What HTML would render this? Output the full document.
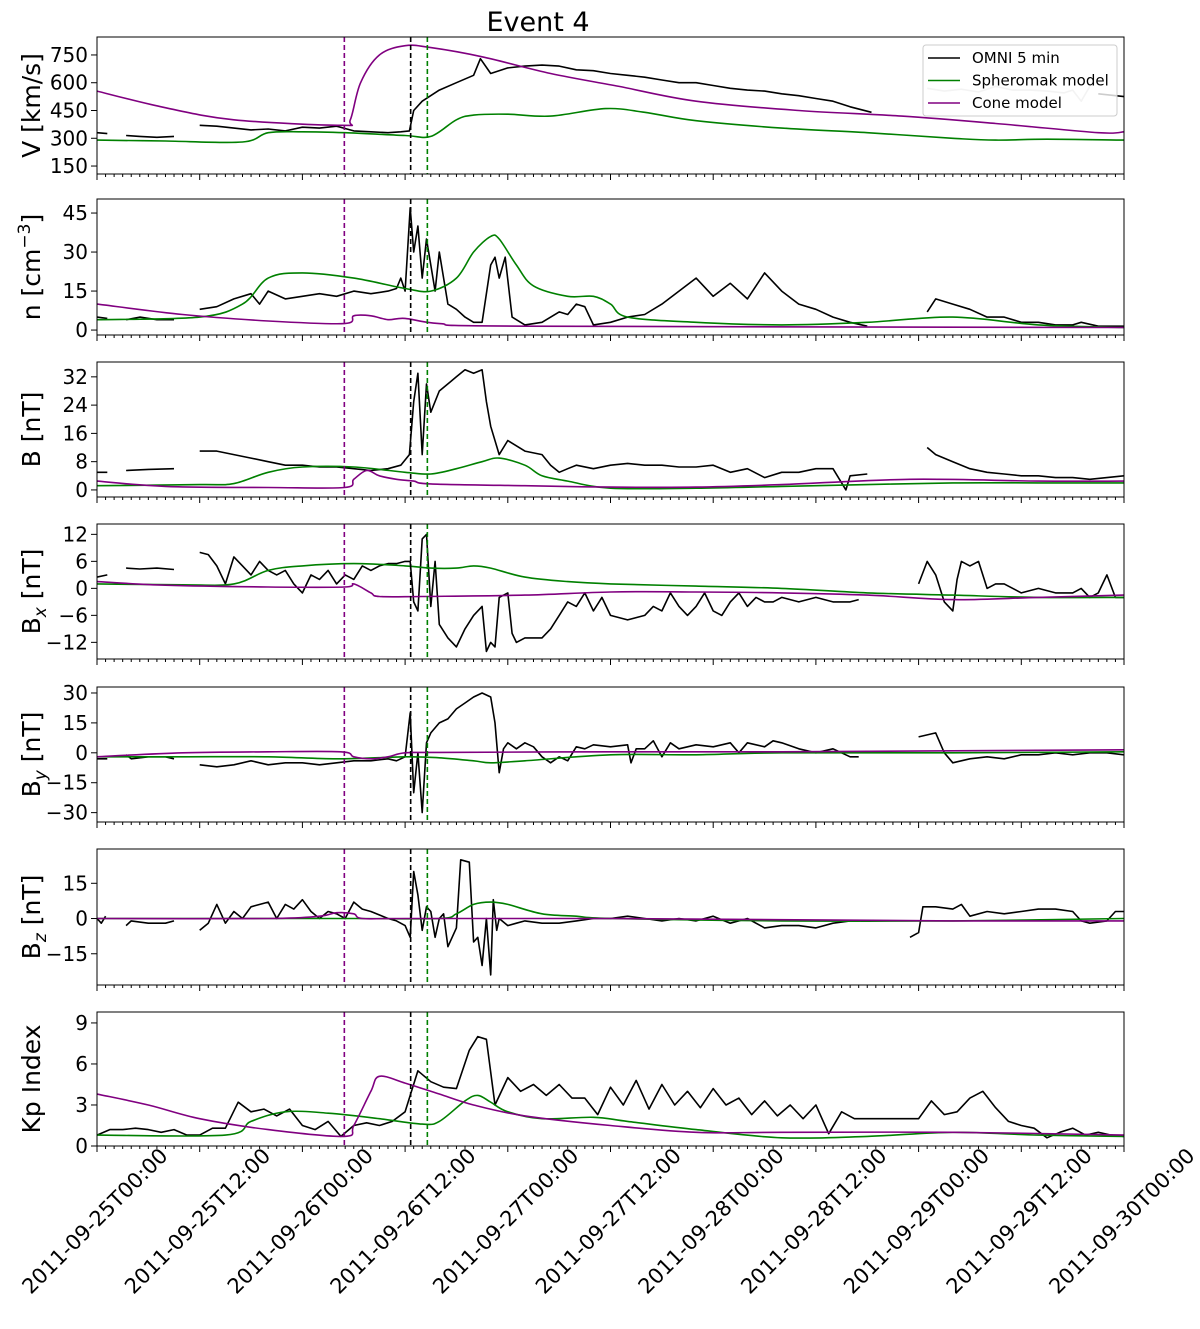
<!DOCTYPE html>
<html><head><meta charset="utf-8"><style>
html,body{margin:0;padding:0;background:#fff;}
svg{display:block;font-family:"DejaVu Sans","Liberation Sans",sans-serif;}
</style></head><body>
<svg id="chart" width="1200" height="1329" viewBox="0 0 1200 1329" xmlns="http://www.w3.org/2000/svg">
<text x="538" y="31" text-anchor="middle" font-size="27">Event 4</text>
</svg>
<script>
// ---------- data (time in hours since 2011-09-25T00:00) ----------
const xTickLabels = ["2011-09-25T00:00","2011-09-25T12:00","2011-09-26T00:00","2011-09-26T12:00","2011-09-27T00:00","2011-09-27T12:00","2011-09-28T00:00","2011-09-28T12:00","2011-09-29T00:00","2011-09-29T12:00","2011-09-30T00:00"];
const eventTimes = [28.9, 36.65, 38.6];

const vOmniT = [0,1.2,null,3.4,5,7,9,null,12,14,16,18,20,22,24,26,28,30,32,34,35.5,36.5,37,38,40,42,44,44.8,46,48,50,52,54,56,58,60,62,64,66,68,70,72,74,76,78,80,82,84,86,88,90.5,null,117,120];
const vOmni  = [330,325,null,315,310,305,310,null,370,365,355,345,350,340,360,355,365,340,335,330,335,340,450,500,560,600,640,730,650,680,690,695,690,670,665,650,640,630,615,600,600,585,570,560,555,540,530,515,500,470,440,null,540,525];
const vGrayT = [97,99,101,103,105,107,109,111,113,114,115,116];
const vGray  = [570,555,565,550,580,560,560,555,545,560,500,580];
const vSphT = [0,8,17,20,24,29,36,39,42,44,48,53,59.4,64,70,80,90,100,105,111,120];
const vSph  = [290,285,280,330,335,330,315,310,400,425,430,420,460,440,395,355,330,300,290,295,290];
const vConeT = [0,7.5,16,28.6,29.6,30.8,33,36,39,45,53,61,70,82,94,105,117,120];
const vCone  = [555,470,400,370,400,600,750,800,790,740,650,580,500,450,420,380,330,335];

const nOmniT = [0,1.2,null,3.4,5,7,9,null,12,14,16,18,19,20,22,24,26,28,30,32,34,35,35.5,36,36.6,37,37.5,38,38.5,39,39.5,40,41,42,43,44,45,46,46.5,47,47.7,48.5,50,52,54,55,56,57,58,60,62,64,66,68,70,72,74,76,78,80,82,84,86,88,90,null,97,98,100,102,104,106,108,110,112,114,115,117,120];
const nOmni  = [5,4.5,null,4,5,4,4,null,8,9,12,14,10,15,12,13,14,13,15,14,15,16,20,15,47,30,40,20,35,25,15,30,10,8,5,3,3,25,28,20,28,5,2,3,7,6,10,9,2,3,5,6,10,15,20,13,18,12,22,15,10,8,5,3,1.5,null,7,12,10,8,5,5,3,3,2,2,3,1.5,1.5];
const nSphT = [0,12,17,20,24,30,36,39,42,44,46,47,49,51,55,58,60,62,70,80,90,100,110,120];
const nSph  = [4,5,10,20,22,20,16,15,20,30,36,35,25,17,13,13,10,5,3,2,3,5,2,1];
const nConeT = [0,10,20,28.9,30,32,34,36,40,50,120];
const nCone  = [10,6,3.5,2.5,5.5,5.5,4,4.5,2.5,1.5,1];

const bOmniT = [0,1.2,null,3.4,6,9,null,12,14,16,18,20,22,24,26,28,30,32,34,35.5,36.5,37,37.5,38,38.5,39,40,41,42,43,44,45,45.5,46,47,47.5,48,50,52,53,54,55,56,58,60,62,64,66,68,70,72,74,76,78,80,82,84,86,87.5,88,90,null,97,98,100,102,104,106,108,110,112,114,116,118,120];
const bOmni  = [5,5,null,5.5,5.8,6,null,11,11,10,9,8,7,7,6.5,6.5,6,5.5,6,7,10,25,33,10,30,22,28,30,32,34,33,34,25,18,10,12,14,11,10,7,5,6,7,6,7,7.5,7,7,6.5,6.5,7,5,6,3.5,5,5,6,6,0,4,4.5,null,12,10,8,6,5,4.5,4,4,3.5,3.5,3,3.5,4];
const bSphT = [0,12,16,20,24,30,36,39,42,45,47,50,52,55,60,70,80,90,100,110,120];
const bSph  = [1.2,1.5,1.8,5,6.5,6.5,5,4.5,6,8,9,7,4,2.5,0.5,0.5,1,1.5,2,2,2];
const bConeT = [0,8,20,28.9,30,31.5,33,35,37,39,50,60,70,80,95,110,120];
const bCone  = [2.5,1,0.7,0.7,3,5.5,4,3,2.5,1.7,1.2,0.8,0.8,1.5,3,2.5,2.5];

const bxOmniT = [0,1.2,null,3.4,5,7,9,null,12,13,14,15,16,17,18,19,20,21,22,23,24,25,26,27,28,29,30,31,32,33,34,35,36,36.6,37,37.5,38,38.5,39,39.5,40,41,42,43,44,45,45.5,46,46.5,47,48,48.5,49,50,52,53,54,55,56,57,58,59,60,62,64,65,66,67,68,69,70,71,72,73,74,75,76,77,78,79,80,82,84,86,88,89,null,96,97,98,99,100,100.5,101,102,103,104,105,106,108,110,112,114,115,116,117,118,119,120];
const bxOmni  = [2.5,3,null,4.5,4.3,4.5,4.2,null,8,7.5,5,1,7,5,3,6,4,3,4,1,-1,3,2,4,1,3,2,5,4,5,5.5,5.5,6,6,-3,-5,11,12,-4,6,-8,-11,-13,-9,-6,-4,-14,-12,-13,-2,-1,-10,-12,-11,-11,-9,-6,-3,-4,-1,-5,-2,-6,-7,-6,-4,-5,-1,-4,-6,-4,-1,-5,-6,-3,-1,-4,-2,-3,-3,-2,-3,-2,-3,-3,-2.5,null,1,6,3,-3,-5,2,6,5,6,0,1,1,-1,0,-1,-1,0,-2,-1,3,-2,-2];
const bxSphT = [0,10,16,20,24,30,36,39,42,44,46,50,55,60,70,80,90,100,110,120];
const bxSph  = [1,0.8,1,4,5,5.5,5,4.5,4.5,5,4.5,2.5,1.5,1,0.5,0,-1,-1.5,-2,-2];
const bxConeT = [0,8,20,28.9,30,32,33,38,50,60,70,80,90,100,110,120];
const bxCone  = [1.5,0.7,0.3,0.3,1,-1,-1.8,-1.8,-1.5,-0.8,-0.8,-1,-1.5,-2.5,-2,-1.5];

const byOmniT = [0,1.2,null,3.4,4,6,8,9,null,12,14,16,18,20,22,24,26,28,30,32,34,35,36,36.6,37,37.5,38,38.5,39,40,41,42,43,44,45,46,46.5,47,47.5,48,49,50,51,52,53,54,55,56,57,58,60,62,62.4,63,64,65,66,67,68,70,72,74,75,76,78,79,80,82,84,86,88,89,null,96,97,98,99,100,102,104,106,108,110,112,114,116,118,120];
const byOmni  = [-3,-3,null,-1,-3,-2,-2,-3,null,-6,-7,-6,-4,-6,-5,-5,-6,-5,-4,-4,-3,-4,-2,20,-20,0,-30,5,10,15,17,22,25,28,30,28,15,-10,2,5,2,5,3,-2,-5,-2,-4,3,2,4,3,4,-5,2,2,6,-2,5,2,4,3,5,0,5,3,6,5,2,0,2,-2,-2,null,8,9,10,0,-5,-3,-2,-3,-1,-1,0,-1,0,0,-1];
const bySphT = [0,10,20,28,36,40,44,46,50,60,70,80,100,120];
const bySph  = [-2,-2,-2,-3,-2,-2.5,-4,-5,-4,-1,-1,0,0,0.5];
const byConeT = [0,10,20,28.5,30,32,34,36,40,60,80,100,120];
const byCone  = [-2,0,0.5,0.5,-2,-3,-2,0,0.2,0.5,0.5,1,1.5];

const bzOmniT = [0,0.5,1,null,3.4,4,6,8,9,null,12,13,14,15,16,17,18,20,21,22,23,24,25,26,27,28,29,30,31,32,34,35,36,36.6,37,37.5,38,38.5,39,39.5,40,40.5,41,42,42.5,43.5,44,44.5,45,45.5,46,46.3,46.7,47,48,49,50,52,54,56,58,60,62,64,66,68,70,72,74,76,78,80,82,84,86,88,89,null,95,96,96.5,98,100,101,102,104,106,108,110,112,114,115,116,118,119,120];
const bzOmni  = [0,-2,1,null,-3,-1,-2,-2,-1,null,-5,-2,6,-2,3,0,5,7,0,6,4,8,3,0,3,2,0,7,4,3,0,-1,-3,-8,20,10,-5,5,3,-8,0,2,-12,-4,25,24,-10,-8,-20,0,-24,8,-5,0,-3,-2,-1,-2,-2,-1,0,0,1,0,-1,0,-1,1,-2,0,-4,-3,-3,-4,-2,-1,-1,null,-8,-6,5,5,4,6,1,3,2,3,4,4,3,-1,-2,-1,3,3];
const bzSphT = [0,20,30,40,42,44,46,48,52,56,60,80,100,120];
const bzSph  = [0,0,0,0,2,6,7,6,2,1,0,-1,-1,0];
const bzConeT = [0,20,26,28,30,31,36,60,100,120];
const bzCone  = [0,0,1,2.5,2,0,0,0,-1,-1];

const kpOmniT = [0,1.5,3,4.5,6,7.5,9,10.5,12,13.5,15,16.5,18,19.5,21,22.5,24,25.5,27,28.5,30,31.5,33,34.5,36,37.5,39,40.5,42,43.5,44.5,45.5,46.5,48,49.5,51,52.5,54,55.5,57,58.5,60,61.5,63,64.5,66,67.5,69,70.5,72,73.5,75,76.5,78,79.5,81,82.5,84,85.5,87,88.5,90,91.5,93,94.5,96,97.5,99,100.5,102,103.5,105,106.5,108,109.5,111,112.5,114,115.5,117,118.5,120];
const kpOmni  = [0.8,1.2,1.2,1.3,1.2,1.0,1.2,0.8,0.8,1.3,1.3,3.2,2.5,2.7,2.2,2.7,1.5,1.2,1.8,0.7,1.5,1.7,1.5,1.8,2.5,5.5,4.7,4.3,4.2,7.0,8.0,7.8,3.0,5.0,4.0,4.5,3.7,4.5,3.5,3.5,2.3,4.3,3.0,4.8,2.7,4.5,3.0,4.0,2.8,4.2,3.0,3.5,2.3,3.3,2.2,3.0,2.0,3.0,0.9,2.5,2.0,2.0,2.0,2.0,2.0,2.0,3.3,2.3,2.5,3.5,4.0,2.8,1.8,1.5,1.3,0.6,1.0,1.3,0.8,1.0,0.8,0.7];
const kpSphT = [0,15,18,22,27,33,38,40,43,44.5,46,48,52,58,62,70,80,90,100,110,120];
const kpSph  = [0.8,0.8,1.8,2.5,2.4,2.0,1.6,1.8,3.3,3.7,3.2,2.5,2.0,2.1,1.8,1.2,0.6,0.7,1.0,0.8,0.7];
const kpConeT = [0,6,12,20,28.9,30,32,33,36,40,44,50,60,70,80,100,120];
const kpCone  = [3.8,3.0,2.0,1.2,0.7,1.5,4.0,5.1,4.6,3.8,3.0,2.2,1.5,1.0,1.0,1.0,0.8];

// ---------- layout ----------
const NS = "http://www.w3.org/2000/svg";
const svg = document.getElementById('chart');
const X0 = 97, X1 = 1124, TMAX = 120;
const xs = t => X0 + (t / TMAX) * (X1 - X0);
const OMNI = "#000", SPH = "#008000", CONE = "#800080";

const panels = [
  {name:'v', top:37, bot:174, min:107, max:847, ticks:[150,300,450,600,750], label:'V [km/s]',
   series:[[vGrayT,vGray,'#c0c0c0','gray'],[vOmniT,vOmni,OMNI,'omni'],[vSphT,vSph,SPH,'spheromak'],[vConeT,vCone,CONE,'cone']]},
  {name:'n', top:199, bot:335, min:-1.9, max:50.4, ticks:[0,15,30,45], label:'n',
   series:[[nOmniT,nOmni,OMNI,'omni'],[nSphT,nSph,SPH,'spheromak'],[nConeT,nCone,CONE,'cone']]},
  {name:'b', top:362, bot:497, min:-2, max:36.2, ticks:[0,8,16,24,32], label:'B [nT]',
   series:[[bOmniT,bOmni,OMNI,'omni'],[bSphT,bSph,SPH,'spheromak'],[bConeT,bCone,CONE,'cone']]},
  {name:'bx', top:524, bot:659, min:-15.7, max:14.3, ticks:[-12,-6,0,6,12], label:'Bx',
   series:[[bxOmniT,bxOmni,OMNI,'omni'],[bxSphT,bxSph,SPH,'spheromak'],[bxConeT,bxCone,CONE,'cone']]},
  {name:'by', top:687, bot:822, min:-34.7, max:33, ticks:[-30,-15,0,15,30], label:'By',
   series:[[byOmniT,byOmni,OMNI,'omni'],[bySphT,bySph,SPH,'spheromak'],[byConeT,byCone,CONE,'cone']]},
  {name:'bz', top:849, bot:985, min:-28.3, max:29.6, ticks:[-15,0,15], label:'Bz',
   series:[[bzOmniT,bzOmni,OMNI,'omni'],[bzSphT,bzSph,SPH,'spheromak'],[bzConeT,bzCone,CONE,'cone']]},
  {name:'kp', top:1012, bot:1146, min:0, max:9.8, ticks:[0,3,6,9], label:'Kp Index',
   series:[[kpOmniT,kpOmni,OMNI,'omni'],[kpSphT,kpSph,SPH,'spheromak'],[kpConeT,kpCone,CONE,'cone']]}
];

function mk(tag, attrs, parent){
  const e = document.createElementNS(NS, tag);
  for (const k in attrs) e.setAttribute(k, attrs[k]);
  (parent||svg).appendChild(e);
  return e;
}
function fmt(v){ return v < 0 ? '\u2212' + Math.abs(v) : String(v); }

function smoothPath(pts){
  if (pts.length < 2) return '';
  let d = 'M' + pts[0][0].toFixed(1) + ' ' + pts[0][1].toFixed(1);
  for (let i = 0; i < pts.length - 1; i++) {
    const p0 = pts[Math.max(0, i - 1)], p1 = pts[i], p2 = pts[i + 1], p3 = pts[Math.min(pts.length - 1, i + 2)];
    const k = 1 / 6;
    const c1x = p1[0] + (p2[0] - p0[0]) * k, c1y = p1[1] + (p2[1] - p0[1]) * k;
    const c2x = p2[0] - (p3[0] - p1[0]) * k, c2y = p2[1] - (p3[1] - p1[1]) * k;
    d += 'C' + c1x.toFixed(1) + ' ' + c1y.toFixed(1) + ' ' + c2x.toFixed(1) + ' ' + c2y.toFixed(1) + ' ' + p2[0].toFixed(1) + ' ' + p2[1].toFixed(1);
  }
  return d;
}

panels.forEach((p, pi) => {
  const g = mk('g', {});
  
  
  const ys = v => p.bot - (v - p.min) / (p.max - p.min) * (p.bot - p.top);
  const clipId = 'clip' + pi;
  const cp = mk('clipPath', {id: clipId}, g);
  mk('rect', {x: X0, y: p.top, width: X1 - X0, height: p.bot - p.top}, cp);

  p.series.forEach(s => {
    const [T, V, col, nm] = s;
    let d = '';
    const smooth = (nm === 'spheromak' || nm === 'cone');
    if (smooth) {
      const pts = [];
      for (let i = 0; i < T.length; i++) pts.push([xs(T[i]), ys(V[i])]);
      d = smoothPath(pts);
    } else {
      let pen = false;
      for (let i = 0; i < T.length; i++) {
        if (T[i] === null || V[i] === null) { pen = false; continue; }
        d += (pen ? 'L' : 'M') + xs(T[i]).toFixed(1) + ' ' + ys(V[i]).toFixed(1);
        pen = true;
      }
    }
    const path = mk('path', {d: d, fill: 'none', stroke: col, 'stroke-width': 1.6, 'clip-path': 'url(#' + clipId + ')', 'stroke-linejoin': 'round'}, g);
    
    
  });

  const evCols = [CONE, '#000', SPH];
  eventTimes.forEach((t, i) => {
    const l = mk('line', {x1: xs(t), x2: xs(t), y1: p.top, y2: p.bot, stroke: evCols[i], 'stroke-width': 1.6, 'stroke-dasharray': '5,3'}, g);
    
    
  });

  const fr = mk('rect', {x: X0, y: p.top, width: X1 - X0, height: p.bot - p.top, fill: 'none', stroke: '#000', 'stroke-width': 1}, g);
  
  

  for (let h = 0; h <= TMAX; h++) {
    const major = h % 12 === 0;
    mk('line', {x1: xs(h), x2: xs(h), y1: p.bot, y2: p.bot + (major ? 6 : 3), stroke: '#000', 'stroke-width': 1}, g);
  }
  p.ticks.forEach(v => {
    const y = ys(v);
    mk('line', {x1: X0 - 6, x2: X0, y1: y, y2: y, stroke: '#000', 'stroke-width': 1}, g);
    const tx = mk('text', {x: X0 - 9, y: y + 7, 'text-anchor': 'end', 'font-size': 20}, g);
    tx.textContent = fmt(v);
    
    
  });
  const cy = (p.top + p.bot) / 2;
  const lab = mk('text', {x: 0, y: 0, 'text-anchor': 'middle', 'font-size': 25, transform: 'translate(40,' + cy + ') rotate(-90)'}, g);
  
  
  if (p.name === 'n') {
    lab.innerHTML = 'n [cm<tspan dy="-10" font-size="17">\u22123</tspan><tspan dy="10">]</tspan>';
  } else if (p.label.length === 2 && p.label[0] === 'B') {
    lab.innerHTML = 'B<tspan dy="6" font-size="17" font-style="italic">' + p.label[1] + '</tspan><tspan dy="-6"> [nT]</tspan>';
  } else {
    lab.textContent = p.label;
  }
});

xTickLabels.forEach((s, i) => {
  const x = xs(i * 12) + 72, y = 1157;
  const t = mk('text', {x: 0, y: 0, 'text-anchor': 'end', 'font-size': 21, transform: 'translate(' + x + ',' + y + ') rotate(-45)'});
  t.textContent = s;
  
  
});

const lg = mk('g', {});


mk('rect', {x: 923, y: 45, width: 194, height: 71, rx: 3, fill: '#fff', 'fill-opacity': 0.8, stroke: '#ccc', 'stroke-width': 1}, lg);
[['OMNI 5 min', OMNI], ['Spheromak model', SPH], ['Cone model', CONE]].forEach((e, i) => {
  const y = 58 + i * 22.5;
  const ent = mk('g', {}, lg);
  
  
  mk('line', {x1: 928, x2: 960, y1: y, y2: y, stroke: e[1], 'stroke-width': 1.6}, ent);
  const t = mk('text', {x: 972, y: y + 5, 'font-size': 15}, ent);
  t.textContent = e[0];
});
</script>
</body></html>
